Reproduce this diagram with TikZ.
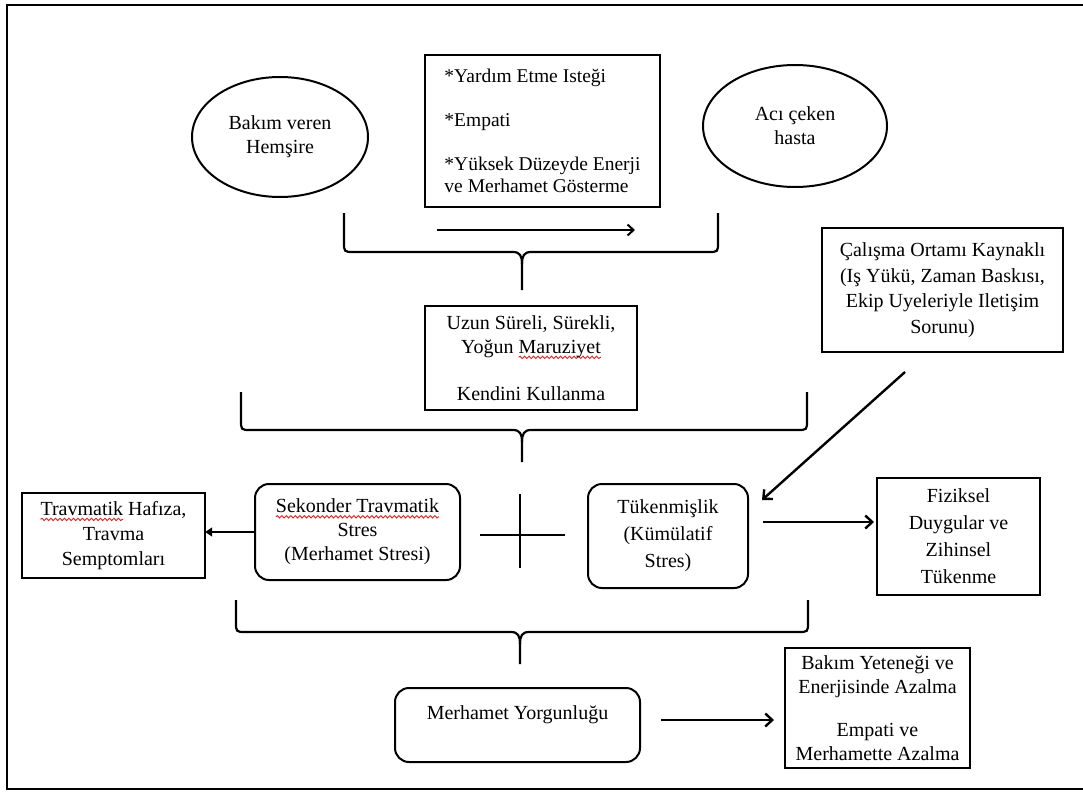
\documentclass[tikz,border=0pt]{standalone}
\usepackage{fontspec}
\setmainfont{Liberation Serif}
\usetikzlibrary{arrows.meta,positioning,shapes.geometric,decorations.pathmorphing}
\definecolor{spellred}{RGB}{225,35,35}
\newlength{\spellw}
\newcommand{\spellwave}[1]{\settowidth{\spellw}{#1}\tikz[overlay, x=1pt, y=1pt, baseline=0pt]\draw[spellred, sharp corners, line width=0.9pt, decorate, decoration={snake, amplitude=1.2pt, segment length=4.5pt}] (0,-4) -- (\spellw,-4);#1}

\begin{document}
\begin{tikzpicture}[x=1pt, y=-1pt, font=\fontsize{20}{24}\selectfont, line width=2pt,
  oval/.style={draw, ellipse, align=center, inner sep=0pt},
  sqbox/.style={draw, rectangle, align=center, inner sep=0pt},
  rbox/.style={draw, rectangle, rounded corners=14pt, align=center, inner sep=0pt},
  flow/.style={-{Straight Barb[length=7pt, width=13pt]}, line width=2.4pt}]
\useasboundingbox (0,0) rectangle (1083,792);
\fill[white] (0,0) rectangle (1083,792);

% Outer frame
\draw[line width=2.8pt] (1100,5) -- (7,5) -- (7,789) -- (1100,789);

% Top row
\node[oval, minimum width=176pt, minimum height=120pt] (hemsire) at (280,137) {Bakım veren\\Hemşire};
\node[sqbox, align=left, minimum width=235pt, minimum height=152pt, font=\fontsize{19.5}{22}\selectfont] (istek) at (542.5,131)
  {*Yardım Etme Isteği\\[22pt]*Empati\\[22pt]*Yüksek Düzeyde Enerji\\ve Merhamet Gösterme};
\node[oval, minimum width=184pt, minimum height=122pt] (hasta) at (795,126) {Acı çeken\\hasta};
\coordinate (give) at (437,230);
\coordinate (take) at (635,230);
\draw[-{Straight Barb[length=6pt, width=11pt]}] (give) -- (take);

% Brace 1
\draw[line width=2.2pt] (344,213) -- (344,242) .. controls (344,252) .. (354,252) -- (513,252)
  .. controls (520,252) and (522,256) .. (522,264) -- (522,290);
\draw[line width=2.2pt] (718,213) -- (718,242) .. controls (718,252) .. (708,252) -- (531,252)
  .. controls (524,252) and (522,256) .. (522,264);

% Exposure
\node[sqbox, minimum width=212pt, minimum height=104pt] (maruz) at (531,358)
  {Uzun Süreli, Sürekli,\\Yoğun \spellwave{Maruziyet}\\[23pt]Kendini Kullanma};
\node[sqbox, minimum width=241pt, minimum height=124pt, font=\fontsize{20}{25.5}\selectfont] (calisma) at (942.5,290)
  {Çalışma Ortamı Kaynaklı\\(Iş Yükü, Zaman Baskısı,\\Ekip Uyeleriyle Iletişim\\Sorunu)};

% Brace 2
\draw[line width=2.2pt] (241,392) -- (241,420) .. controls (241,430) .. (251,430) -- (513,430)
  .. controls (520,430) and (522,434) .. (522,442) -- (522,462);
\draw[line width=2.2pt] (807,392) -- (807,420) .. controls (807,430) .. (797,430) -- (531,430)
  .. controls (524,430) and (522,434) .. (522,442);

% Middle row
\node[sqbox, minimum width=183pt, minimum height=85pt, font=\fontsize{20}{25}\selectfont] (trav) at (113.5,535.5)
  {\spellwave{Travmatik} Hafıza,\\Travma\\Semptomları};
\node[rbox, minimum width=205pt, minimum height=96pt] (sek) at (357.5,532)
  {\spellwave{Sekonder Travmatik}\\Stres\\(Merhamet Stresi)};
\node[rbox, minimum width=160pt, minimum height=104pt, font=\fontsize{20}{27}\selectfont] (tuken) at (668,536)
  {Tükenmişlik\\(Kümülatif\\Stres)};
\node[sqbox, minimum width=163pt, minimum height=117pt, font=\fontsize{20}{27}\selectfont] (fiz) at (958.5,536.5)
  {Fiziksel\\Duygular ve\\Zihinsel\\Tükenme};

% Plus sign
\draw (480,535) -- (565,535);
\draw (520,494) -- (520,568);

\draw[-{Triangle[length=7pt, width=9pt]}, line width=1.5pt] (sek.west) -- (sek.west -| trav.east);
\coordinate (load) at (905,372);
\coordinate (hit) at (762,500);
\draw[flow] (load) -- (hit);
\draw[flow, shorten <=14pt, shorten >=2pt] ([yshift=14pt]tuken.east) -- ([yshift=14pt]tuken.east -| fiz.west);

% Brace 3
\draw[line width=2.2pt] (236,600) -- (236,622) .. controls (236,632) .. (246,632) -- (511,632)
  .. controls (518,632) and (520,636) .. (520,644) -- (520,664);
\draw[line width=2.2pt] (808,600) -- (808,622) .. controls (808,632) .. (798,632) -- (529,632)
  .. controls (522,632) and (520,636) .. (520,644);

% Bottom row
\node[rbox, minimum width=245pt, minimum height=74pt] (yorgun) at (517.5,725)
  {Merhamet Yorgunluğu\\ \mbox{}};
\node[sqbox, minimum width=185pt, minimum height=120pt] (azalma) at (877.5,708)
  {Bakım Yeteneği ve\\Enerjisinde Azalma\\[19pt]Empati ve\\Merhamette Azalma};
\draw[flow, shorten <=20pt, shorten >=10pt] ([yshift=5pt]yorgun.east) -- ([yshift=5pt]yorgun.east -| azalma.west);
\end{tikzpicture}
\end{document}
